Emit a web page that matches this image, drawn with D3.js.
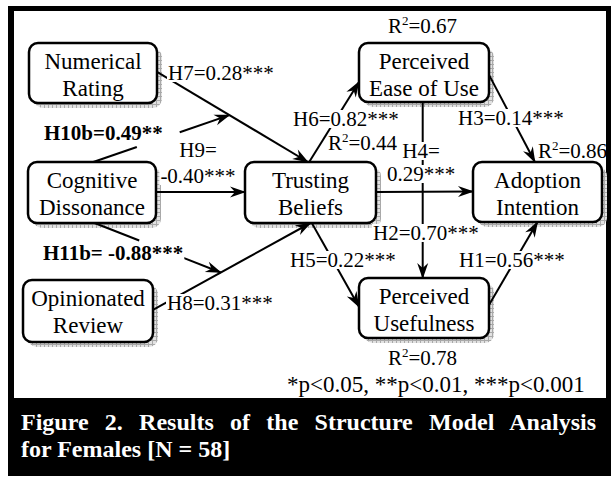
<!DOCTYPE html>
<html><head><meta charset="utf-8">
<script src="https://cdn.jsdelivr.net/npm/d3@7"></script>
<style>html,body{margin:0;padding:0;background:#fff}</style>
</head><body><svg id="c" width="612" height="479"></svg>
<script>
// ---------------- data ----------------
const nodeIds   = ["NR","CD","OR","TB","EU","PU","AI"];
const nodeLines = [["Numerical","Rating"],["Cognitive","Dissonance"],["Opinionated","Review"],
                   ["Trusting","Beliefs"],["Perceived","Ease of Use"],["Perceived","Usefulness"],["Adoption","Intention"]];
const pathIds   = ["H7","H9","H8","H6","H4","H3","H5","H2","H1","H10b","H11b"];
const pathFrom  = ["NR","CD","OR","TB","TB","EU","TB","EU","PU","CD","CD"];
const pathTo    = ["TB","TB","TB","EU","AI","AI","PU","PU","AI","H7","H8"];   // H10b/H11b moderate paths
const pathCoefs = [0.28,-0.40,0.31,0.82,0.29,0.14,0.22,0.70,0.56,0.49,-0.88];
const pathStars = ["***","***","***","***","***","***","***","***","***","**","***"];
const r2Nodes   = ["EU","TB","AI","PU"];
const r2Values  = [0.67,0.44,0.86,0.78];
const sigNote   = "*p<0.05, **p<0.01, ***p<0.001";
const captionLines = ["Figure 2. Results of the Structure Model Analysis","for Females [N = 58]"];

// ---------------- layout ----------------
const box = {NR:[29,43,128,60], CD:[28,162,128,61], OR:[23,280,130,62], TB:[245,162,131,61],
             EU:[359,43,130,59], PU:[359,278,130,60], AI:[473,162,129,60]};
const anchor = {
  H7:{s:[1,0.48], t:[0.48,0]}, H9:{s:[1,0.49], t:[0,0.49]}, H8:{s:[1,0.48], t:[0.5,1]},
  H6:{s:[0.49,0], t:[0,0.66]}, H4:{s:[1,0.49], t:[0,0.49]}, H3:{s:[1,0.54], t:[0.48,0]},
  H5:{s:[0.51,1], t:[0,0.48]}, H2:{s:[0.49,1], t:[0.49,0]}, H1:{s:[1,0.45], t:[0.5,1]},
  H10b:{s:[0.51,0], along:0.48, gap:[0.32,0.635]}, H11b:{s:[0.52,1], along:0.43, gap:[0.354,0.685]}
};
const labelPos = {
  H7:[[168,80,"start"]], H9:[[198,157,"middle"],[198,183,"middle"]], H8:[[167,310,"start"]],
  H6:[[293,126,"start"]], H4:[[421,158,"middle"],[421,181,"middle"]], H3:[[458,125,"start"]],
  H5:[[290,267,"start"]], H2:[[373,240,"start"]], H1:[[459,267,"start"]],
  H10b:[[44,140,"start"]], H11b:[[43,260,"start"]]
};
const r2Pos = {EU:[388,33], TB:[328,150], AI:[538,158], PU:[388,365]};
const serif = "'Liberation Serif','Times New Roman',Times,serif";

const svg = d3.select("#c");
const defs = svg.append("defs");
const pat = defs.append("pattern").attr("id","hatch").attr("width",4).attr("height",4).attr("patternUnits","userSpaceOnUse");
pat.append("rect").attr("width",4).attr("height",4).attr("fill","#e2e2e2");
pat.append("path").attr("d","M0,0.5H4M0.5,0V4").attr("stroke","#a9a9a9").attr("stroke-width",1);
defs.append("marker").attr("id","arr").attr("viewBox","-16 -7 18 14").attr("refX",0).attr("refY",0)
  .attr("markerWidth",18).attr("markerHeight",14).attr("markerUnits","userSpaceOnUse").attr("orient","auto")
  .append("path").attr("d","M1,0 L-15,-5.5 L-10,0 L-15,5.5 Z").attr("fill","#000");

// frame + caption band
svg.append("rect").attr("x",8).attr("y",6).attr("width",603).attr("height",470).attr("fill","#000");
svg.append("rect").attr("x",14).attr("y",11).attr("width",592).attr("height",387).attr("fill","#fff");

// nodes
const nodes = nodeIds.map((id,i)=>({id, lines:nodeLines[i], b:box[id]}));
const gN = svg.append("g");
nodes.forEach(n=>{
  const [x,y,w,h]=n.b;
  gN.append("rect").attr("x",x+5).attr("y",y+5).attr("width",w).attr("height",h).attr("rx",9).attr("fill","url(#hatch)");
});
nodes.forEach(n=>{
  const [x,y,w,h]=n.b;
  gN.append("rect").attr("x",x).attr("y",y).attr("width",w).attr("height",h).attr("rx",9)
    .attr("fill","#fff").attr("stroke","#000").attr("stroke-width",2.5);
  n.lines.forEach((t,j)=>gN.append("text").attr("x",x+w/2).attr("y",y+26+j*27).attr("text-anchor","middle")
    .attr("font-family",serif).attr("font-size",23).text(t));
});

// edges
const pt = (id,[fx,fy]) => { const [x,y,w,h]=box[id]; return [x+fx*w, y+fy*h]; };
const ends = {};
const line = d3.line();
const gE = svg.append("g");
pathIds.forEach((id,i)=>{
  const a = anchor[id];
  const p0 = pt(pathFrom[i], a.s);
  let p1;
  if (box[pathTo[i]]) p1 = pt(pathTo[i], a.t);
  else { const [q0,q1]=ends[pathTo[i]]; p1=[q0[0]+(q1[0]-q0[0])*a.along, q0[1]+(q1[1]-q0[1])*a.along]; }
  ends[id]=[p0,p1];
  const lerp = t => [p0[0]+(p1[0]-p0[0])*t, p0[1]+(p1[1]-p0[1])*t];
  if (a.gap) {
    gE.append("path").attr("d",line([p0,lerp(a.gap[0])])).attr("stroke","#000").attr("stroke-width",2).attr("fill","none");
    gE.append("path").attr("d",line([lerp(a.gap[1]),p1])).attr("stroke","#000").attr("stroke-width",2).attr("fill","none").attr("marker-end","url(#arr)");
  } else {
    gE.append("path").attr("d",line([p0,p1])).attr("stroke","#000").attr("stroke-width",2).attr("fill","none").attr("marker-end","url(#arr)");
  }
});

// edge labels
const gL = svg.append("g");
pathIds.forEach((id,i)=>{
  const coef = pathCoefs[i].toFixed(2);
  const bold = id.length>2;
  let texts;
  if (id==="H9"||id==="H4") texts=[id+"=", coef+pathStars[i]];
  else if (id==="H11b") texts=[id+"= "+coef+pathStars[i]];
  else texts=[id+"="+coef+pathStars[i]];
  texts.forEach((t,j)=>{
    const [x,y,anc]=labelPos[id][j];
    const g=gL.append("g");
    const tx=g.append("text").attr("x",x).attr("y",y).attr("text-anchor",anc).attr("font-family",serif)
      .attr("font-size",21).attr("font-weight",bold?"bold":"normal").text(t);
    const bb=tx.node().getBBox();
    g.insert("rect","text").attr("x",bb.x-1).attr("y",bb.y+3).attr("width",bb.width+2).attr("height",bb.height-6).attr("fill","#fff");
  });
});

// R2 labels
r2Nodes.forEach((id,i)=>{
  const [x,y]=r2Pos[id];
  const t=gL.append("text").attr("x",x).attr("y",y).attr("font-family",serif).attr("font-size",21);
  t.append("tspan").text("R");
  t.append("tspan").attr("dy",-8).attr("font-size",13).text("2");
  t.append("tspan").attr("dy",8).text("="+r2Values[i].toFixed(2));
});

gL.append("text").attr("x",287).attr("y",392).attr("font-family",serif).attr("font-size",23).text(sigNote);

// caption
const c1=svg.append("text").attr("x",21).attr("y",430).attr("font-family",serif).attr("font-size",24)
  .attr("font-weight","bold").attr("fill","#fff").text(captionLines[0]);
const len=c1.node().getComputedTextLength();
const gaps=captionLines[0].split(" ").length-1;
c1.attr("word-spacing",(575-len)/gaps);
svg.append("text").attr("x",21).attr("y",457).attr("font-family",serif).attr("font-size",24)
  .attr("font-weight","bold").attr("fill","#fff").text(captionLines[1]);
</script></body></html>
